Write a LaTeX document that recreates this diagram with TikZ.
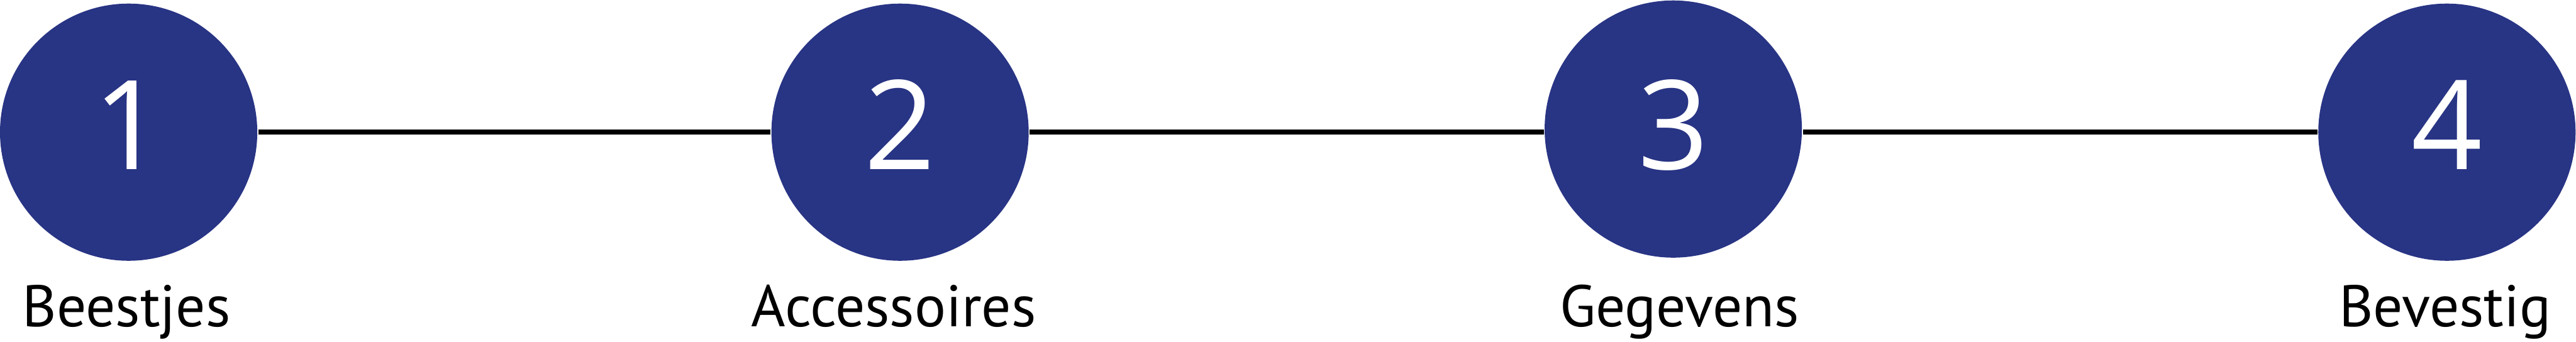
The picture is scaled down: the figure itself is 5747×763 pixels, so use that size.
\documentclass[tikz,border=0pt]{standalone}
\usepackage{fontspec}
\setmainfont{Open Sans}
\newfontfamily\labelfont{PT Sans}
\definecolor{navy}{RGB}{40,52,132}
\begin{document}
\begin{tikzpicture}[x=0.1pt,y=0.1pt,
  stepcircle/.style={circle,fill=navy,draw=none,minimum size=57.4pt,inner sep=0pt},
  digit/.style={text=white,font=\fontsize{27.7pt}{30pt}\selectfont,inner sep=0pt,anchor=base},
  steplabel/.style={text=black,font=\labelfont\fontsize{13.1pt}{15pt}\selectfont,inner sep=0pt,anchor=base},
  connector/.style={line width=1.15pt,black}]
\useasboundingbox (0,0) rectangle (5747,763);
\node[stepcircle] (c1) at (287,468) {};
\node[stepcircle] (c2) at (2008,468) {};
\node[stepcircle] (c3) at (3733,475) {};
\node[stepcircle] (c4) at (5459,468) {};
\draw[connector] (c1.east) -- (c2.west);
\draw[connector] (c2.east) -- (c3.west |- c2.east);
\draw[connector] (c3.east |- c4.west) -- (c4.west);
\node[digit] (d1) at (287,385) {1};
\node[digit] (d2) at (2008,385) {2};
\node[digit] (d3) at (3733,385) {3};
\node[digit] (d4) at (5459,385) {4};
\node[steplabel] (l1) at (282,34) {Beestjes};
\node[steplabel] (l2) at (1994,34) {Accessoires};
\node[steplabel] (l3) at (3747,34) {Gegevens};
\node[steplabel] (l4) at (5455,34) {Bevestig};
\end{tikzpicture}
\end{document}
